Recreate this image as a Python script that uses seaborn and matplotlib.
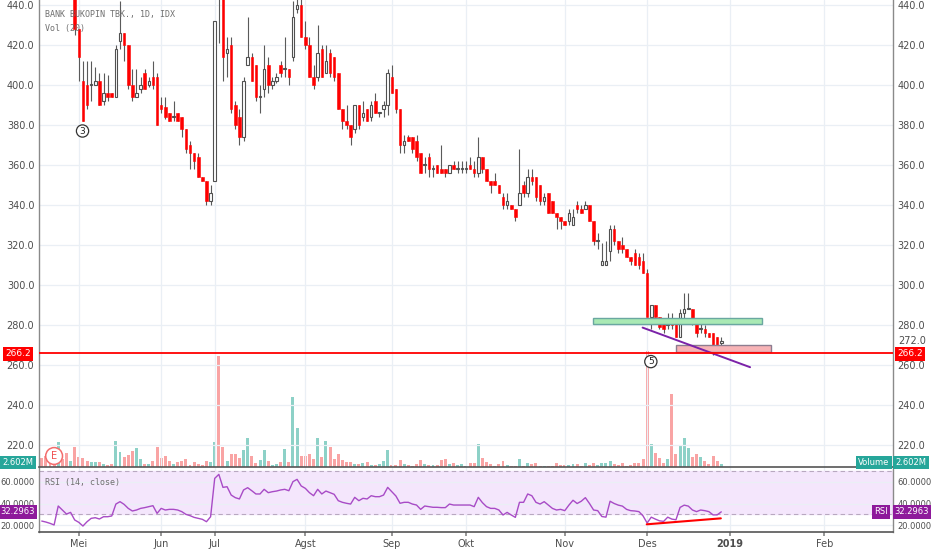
import numpy as np
import matplotlib
matplotlib.use("Agg")
import matplotlib.pyplot as plt
from matplotlib.patches import Rectangle
from matplotlib.ticker import FormatStrFormatter
import seaborn as sns

# daily candles, BANK BUKOPIN (IDX)
opens = [480, 472, 466, 458, 450, 470, 462, 454, 458, 428,
         402, 400, 400, 400, 402, 392, 396, 396, 394, 422,
         426, 420, 400, 394, 398, 406, 400, 404, 404, 390,
         389, 386, 384, 386, 384, 378, 370, 366, 364, 354,
         352, 342, 352, 458, 446, 416, 420, 390, 384, 374,
         410, 414, 410, 394, 398, 410, 400, 402, 410, 408,
         408, 414, 438, 440, 424, 420, 404, 404, 418, 406,
         416, 414, 406, 388, 382, 380, 378, 390, 384, 388,
         384, 392, 386, 388, 390, 404, 398, 388, 370, 374,
         374, 372, 366, 360, 364, 358, 360, 358, 358, 356,
         360, 358, 358, 358, 360, 358, 356, 364, 358, 352,
         352, 350, 344, 340, 340, 338, 340, 350, 346, 354,
         354, 350, 342, 346, 342, 336, 334, 332, 332, 330,
         340, 338, 338, 340, 332, 322, 310, 310, 317, 328,
         322, 320, 318, 314, 316, 314, 312, 306, 284, 290,
         284, 282, 280, 282, 282, 274, 286, 288, 288, 282,
         278, 278, 276, 276, 274, 271]
highs = [484, 476, 468, 460, 474, 472, 464, 462, 460, 428,
         412, 412, 412, 409, 406, 406, 405, 396, 420, 442,
         426, 420, 408, 408, 404, 408, 404, 412, 406, 394,
         394, 386, 392, 386, 384, 378, 372, 366, 366, 354,
         352, 350, 432, 462, 452, 424, 424, 392, 388, 404,
         434, 416, 410, 400, 420, 414, 404, 406, 412, 424,
         408, 442, 450, 444, 432, 424, 410, 430, 420, 420,
         418, 414, 406, 388, 390, 380, 390, 390, 392, 388,
         392, 396, 386, 392, 408, 410, 398, 388, 375, 375,
         374, 375, 366, 364, 366, 360, 360, 370, 358, 360,
         362, 362, 362, 362, 364, 362, 374, 364, 358, 352,
         356, 350, 346, 346, 340, 338, 368, 352, 358, 358,
         354, 350, 346, 346, 342, 336, 334, 332, 338, 338,
         342, 340, 342, 340, 332, 326, 321, 322, 330, 330,
         322, 324, 318, 314, 318, 316, 316, 308, 290, 290,
         284, 282, 286, 286, 282, 288, 296, 296, 288, 282,
         282, 280, 276, 276, 274, 274]
lows = [470, 464, 456, 446, 449, 460, 452, 452, 425, 402,
        382, 388, 392, 400, 390, 390, 392, 394, 394, 418,
        412, 398, 392, 394, 396, 398, 399, 398, 380, 386,
        383, 382, 382, 382, 374, 366, 358, 358, 354, 352,
        340, 340, 352, 421, 402, 404, 386, 378, 370, 372,
        410, 402, 392, 386, 394, 396, 398, 401, 404, 404,
        400, 412, 436, 424, 418, 404, 398, 402, 404, 406,
        404, 402, 388, 378, 378, 370, 376, 378, 382, 382,
        382, 386, 384, 384, 385, 396, 386, 366, 366, 372,
        366, 362, 356, 356, 354, 354, 356, 356, 354, 356,
        358, 356, 356, 356, 358, 354, 354, 356, 352, 346,
        350, 346, 338, 338, 338, 332, 340, 344, 344, 350,
        342, 340, 340, 336, 336, 328, 328, 330, 330, 330,
        336, 336, 338, 332, 320, 318, 310, 310, 312, 320,
        316, 316, 314, 310, 310, 308, 306, 284, 278, 284,
        278, 276, 278, 278, 274, 274, 282, 288, 280, 274,
        276, 274, 274, 265, 270, 270]
closes = [472, 466, 458, 450, 470, 462, 456, 458, 428, 414,
          382, 390, 400, 402, 390, 396, 394, 394, 418, 426,
          420, 400, 394, 396, 400, 398, 402, 400, 380, 388,
          384, 382, 384, 382, 378, 368, 366, 362, 354, 352,
          342, 346, 432, 448, 414, 418, 388, 380, 374, 402,
          414, 402, 394, 394, 408, 400, 402, 404, 406, 408,
          404, 434, 440, 424, 420, 404, 400, 416, 404, 412,
          406, 404, 388, 382, 380, 374, 390, 380, 386, 382,
          390, 386, 386, 390, 406, 396, 388, 370, 372, 372,
          368, 364, 356, 360, 358, 358, 356, 356, 356, 360,
          358, 358, 358, 358, 358, 356, 364, 358, 352, 350,
          350, 346, 340, 342, 338, 334, 346, 346, 354, 352,
          344, 342, 344, 336, 336, 334, 332, 330, 336, 334,
          338, 336, 340, 332, 322, 322, 312, 312, 328, 322,
          318, 318, 314, 312, 310, 310, 306, 284, 290, 284,
          279, 278, 282, 280, 274, 286, 288, 288, 282, 276,
          278, 276, 274, 270, 270, 272]
# volume in millions
volume = [8.7, 11, 13.7, 10, 25, 8, 13.7, 6, 20, 10,
          8.7, 6, 4.7, 4.7, 4.7, 3.3, 2, 3.3, 26, 15,
          10, 11.7, 15.7, 19.3, 7.7, 3.3, 3.3, 6.3, 19.7, 8.7,
          11, 6.3, 3.3, 4.7, 6, 7.7, 2, 4.7, 3.3, 2.3,
          6.3, 4.7, 25, 111, 19.7, 6, 12.7, 13.3, 8.7, 17.3,
          28.7, 11, 4.3, 7.3, 17.3, 6, 2, 2.7, 5, 18,
          5, 69.7, 38.7, 11, 11, 13.3, 8.3, 28.7, 10.3, 26.3,
          19.7, 8, 13.3, 7.3, 5, 5, 3.3, 2.7, 4, 5,
          2, 2, 2.7, 6.3, 17.3, 2, 2, 7.3, 2.7, 2,
          0.7, 3.3, 7.3, 3.3, 2, 2, 2, 7.3, 8, 3.3,
          4, 2, 2.7, 1.3, 4.3, 4.3, 23.3, 9, 5, 3.3,
          1.3, 3.3, 6, 2, 1, 0.7, 8.3, 1.3, 3.7, 3,
          4.3, 1.3, 0.7, 1.3, 1.3, 3.7, 2, 1.7, 1.7, 2.7,
          3, 1, 3.7, 1.7, 4.3, 2, 4.3, 4.3, 6, 2.7,
          2, 3.7, 1.3, 2, 4.3, 3.7, 7.7, 116, 22.7, 14,
          8.7, 4.3, 8, 73, 12.7, 21.7, 28.7, 19.3, 9.7, 12.7,
          10.3, 6.3, 3, 11, 6, 2.6]
rsi = [23.8, 22.9, 21.7, 20.2, 37.7, 34, 30.3, 31.8, 24.8, 22.6,
       19.2, 23.2, 26.3, 26.9, 25.7, 27.8, 27.8, 28.5, 39.5, 41.7,
       39.2, 35.5, 33.1, 34, 35.5, 36.2, 37.1, 38, 30.9, 35.5,
       34, 34.6, 34.6, 34, 32.5, 30, 28.8, 27.2, 26.3, 25.4,
       23.2, 27.8, 63.2, 66.9, 54.9, 55.5, 47.8, 45.4, 44.2, 52.5,
       54.6, 51.8, 48.8, 48.8, 53.1, 50, 50.9, 51.5, 52.5, 53.1,
       51.8, 60.2, 62.3, 56.2, 54, 50, 47.2, 53.1, 48.8, 51.5,
       50, 48.5, 42.6, 41.1, 40.2, 39.5, 45.7, 42.6, 44.8, 44.2,
       47.2, 46.3, 46.3, 47.8, 54.9, 50.9, 46.9, 40.2, 41.1, 41.1,
       39.5, 38.6, 34.6, 37.7, 37.1, 36.5, 36.5, 36.2, 36.2, 39.5,
       38.6, 38.6, 38.6, 38.6, 38.6, 37.1, 45.7, 40.8, 37.1, 35.5,
       35.5, 34, 29.4, 31.8, 29.4, 27.2, 41.1, 41.1, 48.8, 47.2,
       41.1, 39.5, 41.7, 38.6, 35.5, 34, 34.6, 33.4, 38.5, 43,
       40, 42.1, 45.4, 40, 34, 33.4, 28, 27.4, 42.1, 40,
       38.5, 37.6, 34.6, 33.4, 33.1, 32.5, 28.6, 22, 27.4, 25.6,
       24, 23.5, 27.4, 25.6, 25, 36.4, 38.5, 37.6, 34, 32.5,
       34, 33.4, 32.5, 29.5, 29.5, 32.3]

month_labels = ["Mei", "Jun", "Jul", "Agst", "Sep", "Okt", "Nov", "Des", "2019", "Feb"]
month_pos = [9, 29, 42, 64, 85, 103, 127, 147, 167, 190]
price_ticks = [220, 240, 260, 280, 300, 320, 340, 360, 380, 400, 420, 440]
rsi_ticks = [20, 40, 60]
level_line = 266.2
last_rsi = "32.2963"
last_vol = "2.602M"

sns.set_theme(style="white")
plt.rcParams["font.family"] = ["DejaVu Sans"]
plt.rcParams["patch.force_edgecolor"] = False

W, H = 932, 550
def fx(x):
    return x / W
def fy(y):
    return 1 - y / H

o = np.array(opens, float)
h = np.array(highs, float)
l = np.array(lows, float)
c = np.array(closes, float)
v = np.array(volume, float)
x = np.arange(len(o))
up = c >= o

fig = plt.figure(figsize=(W / 100, H / 100), dpi=100)
fig.patch.set_facecolor("white")
ax = fig.add_axes([fx(38.5), fy(467), fx(893 - 38.5), 467 / H])
axr = fig.add_axes([fx(38.5), fy(532), fx(893 - 38.5), 65 / H], sharex=ax)

# volume on its own scale under the candles
axv = ax.twinx()
axv.bar(x[up], v[up], width=0.72, color="#8dd1c7", linewidth=0, zorder=1)
axv.bar(x[~up], v[~up], width=0.72, color="#f9a4a4", linewidth=0, zorder=1)
axv.set_ylim(0, 467)
axv.set_axis_off()
ax.set_zorder(axv.get_zorder() + 1)
ax.patch.set_visible(False)
axr.set_zorder(ax.get_zorder() + 1)

grid_c = "#eaeff5"
for p in month_pos:
    ax.axvline(p, color=grid_c, lw=0.9, zorder=0)
    axr.axvline(p, color=grid_c, lw=0.9, zorder=0)

# candles
body_lo = np.minimum(o, c)
body_h = np.maximum(np.abs(c - o), 0.5)
ax.vlines(x, l, h, color="#5a5a5a", lw=0.8, zorder=2)
ax.bar(x[up], body_h[up], bottom=body_lo[up], width=0.62, facecolor="white",
       edgecolor="#505050", linewidth=0.8, zorder=3)
ax.bar(x[~up], body_h[~up], bottom=body_lo[~up], width=0.62, facecolor="#ff0000",
       edgecolor="#ff0000", linewidth=0.4, zorder=3)

ax.set_xlim(-0.79, 206.7)
ax.set_ylim(209, 442.5)
ax.set_yticks(price_ticks)
ax.yaxis.set_major_formatter(FormatStrFormatter("%.1f"))
ax.grid(axis="y", color=grid_c, lw=0.9)
ax.set_axisbelow(True)
ax.tick_params(axis="y", left=True, right=True, labelleft=True, labelright=True,
               length=0, pad=3, labelsize=7, labelcolor="#4d4d4d")
ax.tick_params(axis="x", bottom=False, labelbottom=False)
for s in ["top", "bottom"]:
    ax.spines[s].set_visible(False)
for s in ["left", "right"]:
    ax.spines[s].set_color("#8a8a8a")
    ax.spines[s].set_linewidth(1.0)

# drawings
ax.add_patch(Rectangle((133.9, 280.3), 40.9, 3.0, facecolor="#a9e9b4",
                       edgecolor="#6aa7a0", lw=1, zorder=4))
ax.add_patch(Rectangle((153.9, 266.4), 23.1, 3.4, facecolor="#f7b3b6",
                       edgecolor="#8d7d90", lw=1, zorder=4))
ax.plot([145.9, 172], [278.7, 258.9], color="#7b22a8", lw=1.4, zorder=5)
ax.axhline(level_line, color="#ff0000", lw=1.3, zorder=5)

circ = dict(boxstyle="circle,pad=0.18", fc="white", ec="#333333", lw=0.9)
ax.text(9.9, 377, "3", ha="center", va="center", fontsize=6.5, color="#222222",
        bbox=circ, zorder=6)
ax.text(147.9, 261.7, "5", ha="center", va="center", fontsize=6.5, color="#222222",
        bbox=circ, zorder=6)
ax.text(3.0, 214.5, "E", ha="center", va="center", fontsize=7, color="#f04e4e",
        bbox=dict(boxstyle="circle,pad=0.35", fc="white", ec="#f36c6c", lw=1.1), zorder=6)

# RSI pane
axr.axhspan(30, 70, color="#f4e6fc", zorder=0)
for lv in (30, 70):
    axr.axhline(lv, color="#b8a8c0", lw=0.8, ls=(0, (4, 3)), zorder=1)
sns.lineplot(x=x, y=rsi, ax=axr, color="#a84bc6", lw=1.0, legend=False, zorder=3)
axr.plot([146.9, 164.9], [20.8, 26.3], color="#ff0000", lw=1.5, zorder=4)
axr.set_ylim(13.7, 73.7)
axr.set_yticks(rsi_ticks)
axr.yaxis.set_major_formatter(FormatStrFormatter("%.4f"))
axr.grid(axis="y", color=grid_c, lw=0.9)
axr.set_axisbelow(True)
axr.tick_params(axis="y", left=True, right=True, labelleft=True, labelright=True,
                length=0, pad=3, labelsize=6, labelcolor="#4d4d4d")
axr.set_xticks(month_pos)
axr.set_xticklabels(month_labels)
axr.tick_params(axis="x", bottom=True, length=3, color="#8a8a8a", pad=2,
                labelsize=7, labelcolor="#4d4d4d")
axr.get_xticklabels()[8].set_fontweight("bold")
axr.set_xlabel("")
axr.set_ylabel("")
for s in ["top", "bottom"]:
    axr.spines[s].set_color("#555555")
    axr.spines[s].set_linewidth(1.2)
for s in ["left", "right"]:
    axr.spines[s].set_color("#8a8a8a")
    axr.spines[s].set_linewidth(1.0)

# legends
mono = "DejaVu Sans Mono"
fig.text(fx(45), fy(14), "BANK BUKOPIN TBK., 1D, IDX", family=mono, fontsize=6,
         color="#707070", va="center")
fig.text(fx(45), fy(28), "Vol (20)", family=mono, fontsize=6, color="#707070", va="center")
fig.text(fx(45), fy(482), "RSI (14, close)", family=mono, fontsize=6, color="#707070",
         va="center", zorder=12)

# price / value tags
def tag(px, py, s, fc, size=6):
    fig.text(fx(px), fy(py), s, ha="center", va="center", fontsize=size, color="white",
             bbox=dict(boxstyle="square,pad=0.25", fc=fc, ec="none"), zorder=10)

tag(18, 354, "266.2", "#ff0000", size=6.5)
tag(910, 354, "266.2", "#ff0000", size=6.5)
fig.text(fx(898), fy(341), "272.0", fontsize=7, color="#4d4d4d", va="center")
tag(18, 462.5, last_vol, "#26a69a")
tag(874, 462.5, "Volume", "#26a69a")
tag(911, 462.5, last_vol, "#26a69a")
tag(18, 512, last_rsi, "#8e1a9b")
tag(881, 512, "RSI", "#8e1a9b")
tag(912, 512, last_rsi, "#8e1a9b")

fig.savefig("out.png", dpi=100, facecolor="white")
